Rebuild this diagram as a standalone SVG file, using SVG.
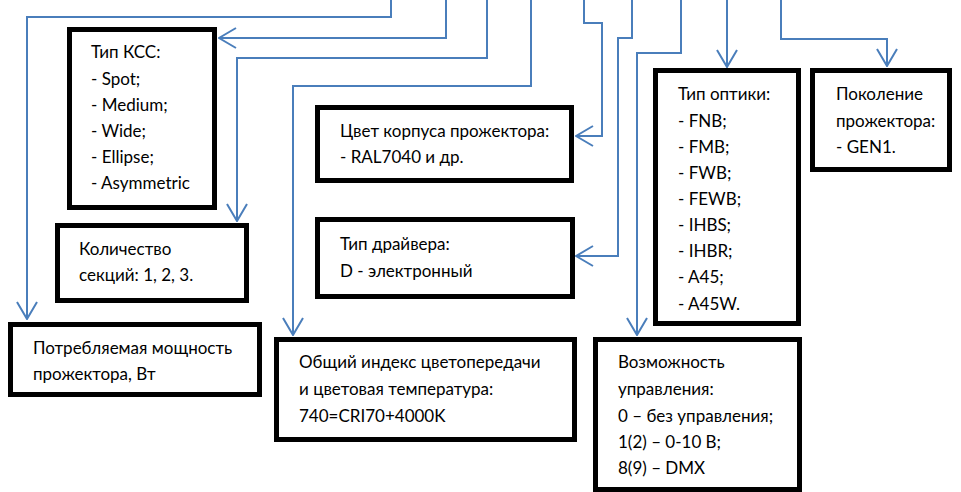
<svg xmlns="http://www.w3.org/2000/svg" width="961" height="492" viewBox="0 0 961 492">
<style>
.box{fill:#fff;stroke:#000;stroke-width:5}
.t{font-family:Lato,"Liberation Sans",sans-serif;font-size:17px;fill:#000}
.c{fill:none;stroke:#4a7ebb;stroke-width:2}
</style>
<defs>
<marker id="ah" viewBox="0 0 19 22" refX="18" refY="11" markerWidth="19" markerHeight="22" markerUnits="userSpaceOnUse" orient="auto">
<path d="M1,1 L18,11 L1,21" fill="none" stroke="#4a7ebb" stroke-width="2"/>
</marker>
</defs>
<rect width="961" height="492" fill="#fff"/>
<g id="connectors" class="c" marker-end="url(#ah)">
<path d="M391,0 V17 H27 V319"/>
<path d="M446,0 V38 H219"/>
<path d="M487,0 V58 H237 V221"/>
<path d="M531,0 V86 H293 V335"/>
<path d="M584,0 V23 H602 V136 H576"/>
<path d="M632,0 V38 H618 V256 H576"/>
<path d="M681,0 V53 H637 V335"/>
<path d="M727,0 V67"/>
<path d="M781,0 V39 H887 V66"/>
</g>
<g id="kss">
<rect class="box" x="69.5" y="29.5" width="145" height="178"/>
<text class="t" x="91" y="58">Тип КСС:</text>
<text class="t" x="91" y="85">- Spot;</text>
<text class="t" x="91" y="111">- Medium;</text>
<text class="t" x="91" y="137">- Wide;</text>
<text class="t" x="91" y="163">- Ellipse;</text>
<text class="t" x="91" y="189">- Asymmetric</text>
</g>
<g id="sections">
<rect class="box" x="57.5" y="225.5" width="189" height="75"/>
<text class="t" x="79" y="255">Количество</text>
<text class="t" x="79" y="281">секций: 1, 2, 3.</text>
</g>
<g id="power">
<rect class="box" x="10.5" y="324.5" width="249" height="70"/>
<text class="t" x="33" y="354">Потребляемая мощность</text>
<text class="t" x="33" y="380">прожектора, Вт</text>
</g>
<g id="color">
<rect class="box" x="317.5" y="107.5" width="254" height="73"/>
<text class="t" x="340" y="137">Цвет корпуса прожектора:</text>
<text class="t" x="340" y="163">- RAL7040 и др.</text>
</g>
<g id="driver">
<rect class="box" x="317.5" y="219.5" width="255" height="77"/>
<text class="t" x="340" y="250">Тип драйвера:</text>
<text class="t" x="340" y="277">D - электронный</text>
</g>
<g id="cri">
<rect class="box" x="276.5" y="339.5" width="298" height="100"/>
<text class="t" x="299" y="368">Общий индекс цветопередачи</text>
<text class="t" x="299" y="395">и цветовая температура:</text>
<text class="t" x="299" y="422">740=CRI70+4000K</text>
</g>
<g id="optics">
<rect class="box" x="655.5" y="70.5" width="143" height="253"/>
<text class="t" x="678" y="100">Тип оптики:</text>
<text class="t" x="678" y="127">- FNB;</text>
<text class="t" x="678" y="153">- FMB;</text>
<text class="t" x="678" y="179">- FWB;</text>
<text class="t" x="678" y="205">- FEWB;</text>
<text class="t" x="678" y="231">- IHBS;</text>
<text class="t" x="678" y="257">- IHBR;</text>
<text class="t" x="678" y="283">- A45;</text>
<text class="t" x="678" y="310">- A45W.</text>
</g>
<g id="generation">
<rect class="box" x="812.5" y="70.5" width="137" height="99"/>
<text class="t" x="836" y="100">Поколение</text>
<text class="t" x="836" y="127">прожектора:</text>
<text class="t" x="836" y="153">- GEN1.</text>
</g>
<g id="control">
<rect class="box" x="595.5" y="339.5" width="204" height="150"/>
<text class="t" x="618" y="368">Возможность</text>
<text class="t" x="618" y="395">управления:</text>
<text class="t" x="618" y="422">0 – без управления;</text>
<text class="t" x="618" y="448">1(2) – 0-10 В;</text>
<text class="t" x="618" y="474">8(9) – DMX</text>
</g>
</svg>
